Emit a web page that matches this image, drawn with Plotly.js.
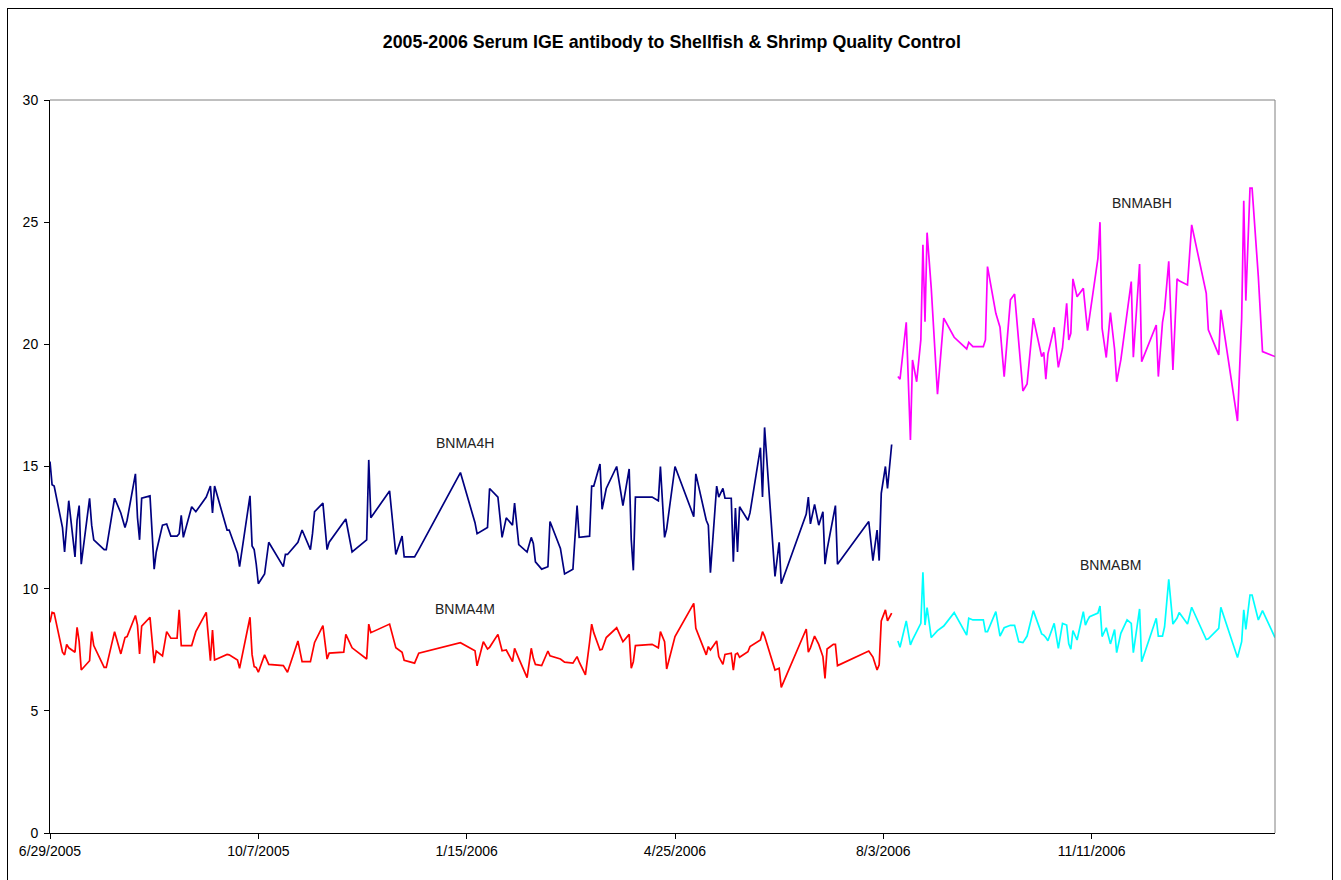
<!DOCTYPE html>
<html>
<head>
<meta charset="utf-8">
<script src="https://cdn.plot.ly/plotly-3.0.1.min.js"></script>
<style>
  body { margin: 0; background: #fff; overflow: hidden; }
  #QC { width: 1341px; height: 880px; }
  #frame { position: absolute; left: 7px; top: 8px; width: 1324px; height: 900px;
           border: 1px solid #000; pointer-events: none; }
</style>
</head>
<body>
<div id="QC"></div>
<div id="frame"></div>
<script>
// days counted from 6/29/2005
var daysA = [0,1,2,6,7,8,9,12,13,14,15,19,20,21,26,27,31,34,36,37,41,42,43,44,48,50,51,54,56,58,
  61,62,63,64,68,70,75,77,78,79,85,86,90,91,96,97,98,99,100,103,105,112,113,114,119,121,125,126,127,131,
  133,134,141,142,145,152,153,154,163,166,169,170,175,177,197,204,205,208,210,211,215,217,219,222,223,225,229,231,232,233,
  236,239,240,245,247,251,253,254,257,259,260,261,264,265,267,272,275,278,279,280,281,289,292,293,295,296,300,309,310,315,
  316,317,320,321,323,324,327,328,329,330,331,335,336,341,342,343,348,350,351,363,364,365,367,369,371,372,373,376,377,378,
  393,395,397,398,399,401,402,404];

var bnma4h = [15.2,14.25,14.2,12.5,11.5,12.4,13.6,11.3,12.8,13.4,11.0,13.7,12.6,12.0,11.6,11.6,13.7,13.1,12.5,12.8,
  14.7,12.9,12.0,13.7,13.8,10.8,11.5,12.6,12.65,12.15,12.15,12.25,13.0,12.1,13.35,13.15,13.75,14.2,13.1,14.2,
  12.4,12.4,11.45,10.9,13.8,11.75,11.6,11.0,10.2,10.6,11.9,10.9,11.4,11.4,11.9,12.4,11.6,12.25,13.15,13.5,
  11.6,11.9,12.75,12.85,11.5,12.0,15.27,12.9,14.0,11.4,12.15,11.3,11.3,11.6,14.75,12.7,12.25,12.4,12.5,14.1,
  13.75,12.1,12.9,12.6,13.5,11.8,11.5,12.1,11.85,11.1,10.8,10.9,12.75,11.65,10.6,10.8,13.4,12.1,12.13,12.15,
  14.2,14.2,15.1,13.25,14.1,15.0,13.4,14.9,12.0,10.75,13.75,13.75,13.6,15.0,12.1,12.45,15.0,12.95,14.7,12.8,
  12.6,10.65,14.2,13.75,14.1,13.7,13.7,11.1,13.3,11.5,13.35,12.8,13.1,15.77,13.75,16.6,10.5,11.9,10.2,13.05,
  13.75,12.65,13.45,12.6,13.15,11.0,11.6,12.9,13.4,11.0,12.75,11.15,12.4,11.15,13.9,15.0,14.1,15.9];

var bnma4m = [8.62,9.03,9.0,7.4,7.29,7.72,7.58,7.4,8.42,7.83,6.67,7.05,8.24,7.67,6.78,6.78,8.24,7.33,8.0,8.04,
  8.9,8.51,7.33,8.47,8.83,6.95,7.45,7.25,8.24,7.97,7.97,9.13,7.67,7.67,7.67,8.24,9.03,7.05,8.31,7.08,
  7.31,7.29,7.08,6.74,8.83,7.3,6.81,6.77,6.58,7.29,6.9,6.85,6.7,6.58,7.86,7.01,7.01,7.4,7.8,8.49,
  7.12,7.36,7.4,8.13,7.58,7.12,8.55,8.2,8.55,7.58,7.4,7.07,6.95,7.36,7.79,7.46,6.84,7.83,7.53,7.6,
  8.13,7.46,7.49,7.01,7.56,7.15,6.36,7.56,7.15,6.9,6.85,7.45,7.25,7.12,6.99,6.95,7.22,7.0,6.47,7.8,
  8.55,8.2,7.49,7.52,8.0,8.4,7.83,8.13,6.74,7.01,7.67,7.72,7.58,8.24,7.83,6.71,8.04,9.4,8.38,7.29,
  7.63,7.49,7.86,7.22,6.9,7.31,7.36,6.67,7.31,7.36,7.19,7.42,7.63,7.9,8.24,8.06,6.67,6.74,5.96,8.35,
  7.4,7.58,8.06,7.72,7.22,6.33,7.53,7.72,7.72,6.85,7.45,7.2,6.67,6.88,8.68,9.13,8.68,9.0];

var daysB = [407,408,411,413,414,416,418,419,420,421,423,426,429,434,440,441,443,448,449,450,
  454,456,458,461,463,465,467,469,472,476,477,478,479,482,484,486,488,489,490,491,
  493,496,497,498,499,503,504,505,507,509,511,512,514,517,519,520,523,524,531,532,
  534,535,537,539,541,542,546,548,555,556,561,562,570,572,573,574,576,577,580,582,588];

var bnmabh = [18.68,18.57,20.9,16.09,19.36,18.47,20.18,24.07,20.93,24.57,22.3,17.96,21.07,20.29,19.81,20.08,19.91,19.91,20.18,23.18,
  21.27,20.7,18.68,21.82,22.06,20.2,18.09,18.38,21.07,19.5,19.67,18.57,19.61,20.7,19.06,19.84,21.68,20.18,20.45,22.68,
  21.95,22.29,21.27,20.56,21.13,23.52,25.0,20.66,19.46,21.3,19.8,18.47,19.36,21.4,22.57,19.47,23.29,19.29,20.79,18.68,
  20.9,21.41,23.4,18.95,22.68,22.6,22.43,24.89,22.09,20.59,19.57,21.41,16.86,21.07,25.88,21.79,26.39,26.39,22.77,19.7,19.5];

var bnmabm = [7.86,7.6,8.68,7.7,7.9,8.24,8.58,10.67,8.51,9.22,8.0,8.28,8.47,9.02,8.1,8.79,8.72,8.72,8.24,8.24,
  9.06,8.06,8.4,8.5,8.5,7.83,7.79,8.06,9.1,8.15,8.1,8.0,7.87,8.58,7.56,8.58,8.51,7.74,7.52,8.28,
  7.9,9.06,8.51,8.7,8.85,9.0,9.29,8.04,8.4,7.74,8.33,7.38,8.17,8.72,8.58,7.38,9.17,7.01,8.79,8.06,
  8.06,8.44,10.38,8.55,8.8,9.02,8.55,9.24,7.92,7.95,8.38,9.24,7.18,7.83,9.13,8.33,9.74,9.74,8.72,9.1,8.0];

var seriesNames = ['BNMA4H', 'BNMA4M', 'BNMABH', 'BNMABM'];

function dayToDate(d) {
  return new Date(Date.UTC(2005, 5, 29 + d)).toISOString().slice(0, 10);
}

var datesA = daysA.map(dayToDate);
var datesB = daysB.map(dayToDate);

function line(x, y, name, color) {
  return { x: x, y: y, name: name, mode: 'lines', type: 'scatter',
           line: { color: color, width: 1.7 }, hoverinfo: 'x+y' };
}

var data = [
  line(datesA, bnma4h, seriesNames[0], '#000080'),
  line(datesA, bnma4m, seriesNames[1], '#ff0000'),
  line(datesB, bnmabh, seriesNames[2], '#ff00ff'),
  line(datesB, bnmabm, seriesNames[3], '#00ffff')
];

function label(text, day, val) {
  return { text: text, x: dayToDate(day), y: val, xref: 'x', yref: 'y',
           showarrow: false, font: { size: 14, color: '#222' } };
}

var layout = {
  width: 1341,
  height: 880,
  showlegend: false,
  paper_bgcolor: '#fff',
  plot_bgcolor: '#fff',
  font: { family: '"Liberation Sans", Arial, sans-serif', color: '#000', size: 14 },
  title: {
    text: '<b>2005-2006 Serum IGE antibody to Shellfish &amp; Shrimp Quality Control</b>',
    font: { size: 17.8, color: '#000' },
    xref: 'container', x: 0.501, xanchor: 'center',
    yref: 'container', y: 0.952, yanchor: 'middle'
  },
  margin: { l: 50, r: 66, t: 100, b: 47, pad: 0 },
  xaxis: {
    type: 'date',
    range: [dayToDate(0), dayToDate(588)],
    tick0: dayToDate(0),
    dtick: 100 * 86400000,
    tickformat: '%-m/%-d/%Y',
    showgrid: false,
    zeroline: false,
    showline: true,
    linecolor: '#000',
    linewidth: 1,
    ticks: 'outside',
    ticklen: 5,
    tickcolor: '#000',
    tickfont: { size: 14 }
  },
  yaxis: {
    range: [0, 30],
    tick0: 0,
    dtick: 5,
    showgrid: false,
    zeroline: false,
    showline: true,
    linecolor: '#000',
    linewidth: 1,
    ticks: 'outside',
    ticklen: 5,
    tickcolor: '#000',
    ticklabelstandoff: 3,
    tickfont: { size: 14 }
  },
  shapes: [
    { type: 'line', xref: 'paper', yref: 'paper', x0: 0, x1: 1, y0: 1, y1: 1,
      line: { color: '#808080', width: 1 } },
    { type: 'line', xref: 'paper', yref: 'paper', x0: 1, x1: 1, y0: 0, y1: 1,
      line: { color: '#808080', width: 1 } }
  ],
  annotations: [
    label(seriesNames[0], 199, 15.98),
    label(seriesNames[1], 199, 9.18),
    label(seriesNames[2], 524, 25.8),
    label(seriesNames[3], 509, 10.98)
  ]
};

var config = { displayModeBar: false, displaylogo: false, staticPlot: true };

Plotly.newPlot('QC', data, layout, config);
</script>
</body>
</html>
